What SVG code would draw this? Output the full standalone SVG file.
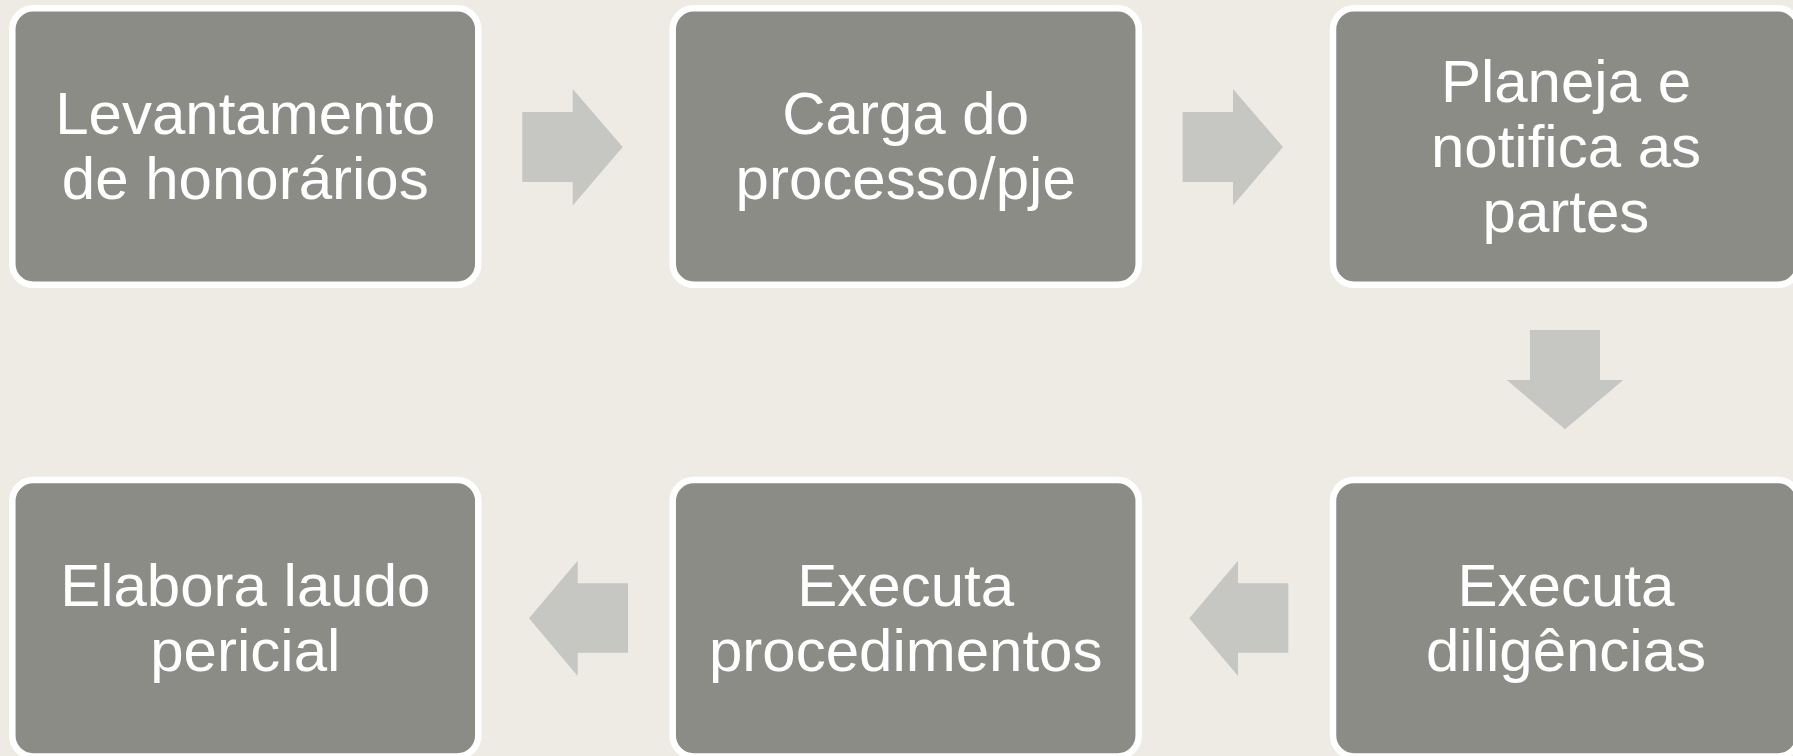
<svg xmlns="http://www.w3.org/2000/svg" width="1793" height="756" viewBox="0 0 1793 756">
  <style>
    .box { fill: #8C8C86; stroke: #FFFFFF; stroke-width: 6.5; }
    .lbl { fill: #FFFFFF; font-family: "Liberation Sans", Arial, sans-serif; font-size: 60px; text-anchor: middle; }
    .arr { fill: #C6C6C3; stroke: none; }
  </style>
  <rect x="0" y="0" width="1793" height="756" fill="#EEEBE4"/>

  <g id="connectors">
    <polygon class="arr" points="522.3,112 572.7,112 572.7,89 622.7,147 572.7,205.5 572.7,182 522.3,182"/>
    <polygon class="arr" points="1182.6,112 1233,112 1233,89 1283,147 1233,205.5 1233,182 1182.6,182"/>
    <polygon class="arr" points="1530,330 1600,330 1600,380 1623.3,380 1565,429.3 1506.7,380 1530,380"/>
    <polygon class="arr" points="1288.3,583.3 1238,583.3 1238,560.7 1189.3,618.3 1238,676 1238,652.7 1288.3,652.7"/>
    <polygon class="arr" points="628,583.3 577.7,583.3 577.7,560.7 529,618.3 577.7,676 577.7,652.7 628,652.7"/>
  </g>

  <g id="node1">
    <rect class="box" x="12.3" y="8.3" width="466" height="276.5" rx="21" ry="21"/>
    <text class="lbl" x="245.3" y="134">Levantamento</text>
    <text class="lbl" x="245.3" y="199">de honorários</text>
  </g>
  <g id="node2">
    <rect class="box" x="672.7" y="8.3" width="466" height="276.5" rx="21" ry="21"/>
    <text class="lbl" x="905.7" y="134">Carga do</text>
    <text class="lbl" x="905.7" y="199">processo/pje</text>
  </g>
  <g id="node3">
    <rect class="box" x="1333" y="8.3" width="466" height="276.5" rx="21" ry="21"/>
    <text class="lbl" x="1566" y="101.5">Planeja e</text>
    <text class="lbl" x="1566" y="166.5">notifica as</text>
    <text class="lbl" x="1566" y="231.5">partes</text>
  </g>
  <g id="node4">
    <rect class="box" x="1333" y="480" width="466" height="276.5" rx="21" ry="21"/>
    <text class="lbl" x="1566" y="605.7">Executa</text>
    <text class="lbl" x="1566" y="670.7">diligências</text>
  </g>
  <g id="node5">
    <rect class="box" x="672.7" y="480" width="466" height="276.5" rx="21" ry="21"/>
    <text class="lbl" x="905.7" y="605.7">Executa</text>
    <text class="lbl" x="905.7" y="670.7">procedimentos</text>
  </g>
  <g id="node6">
    <rect class="box" x="12.3" y="480" width="466" height="276.5" rx="21" ry="21"/>
    <text class="lbl" x="245.3" y="605.7">Elabora laudo</text>
    <text class="lbl" x="245.3" y="670.7">pericial</text>
  </g>
</svg>
